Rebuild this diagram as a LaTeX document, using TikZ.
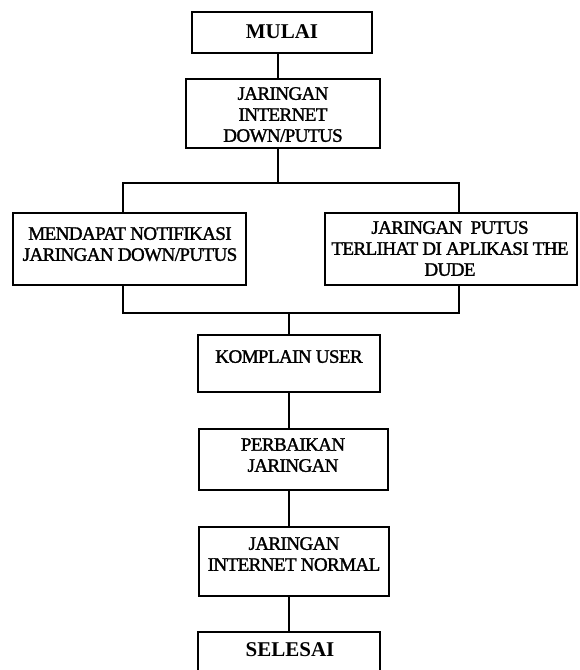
\documentclass[tikz,border=0pt]{standalone}
\usepackage{fontspec}
\setmainfont{Liberation Serif}[LetterSpace=-3,FakeBold=1.5]
\newfontfamily\endfont{Liberation Serif}[BoldFont={Liberation Serif Bold}]
\begin{document}
\begin{tikzpicture}[x=1pt,y=-1pt,
  box/.style={draw, line width=1.5pt, inner sep=0pt},
  txt/.style={anchor=north, inner sep=0pt, align=center, font=\fontsize{19}{21}\selectfont},
  endtxt/.style={anchor=north, inner sep=0pt, align=center, font=\endfont\bfseries\fontsize{21}{23}\selectfont},
  conn/.style={line width=2.2pt, line join=miter}]
\useasboundingbox (0,0) rectangle (579,670);
% boxes
\node[box, minimum width=180pt, minimum height=41pt] (mulai) at (282,32.5) {};
\node[box, minimum width=194pt, minimum height=69pt] (jar) at (283,113.5) {};
\node[box, minimum width=233pt, minimum height=72pt] (notif) at (129.5,249) {};
\node[box, minimum width=252pt, minimum height=72pt] (dude) at (451,249) {};
\node[box, minimum width=182pt, minimum height=57pt] (komp) at (289,363.5) {};
\node[box, minimum width=189pt, minimum height=61pt] (perb) at (293.5,459.5) {};
\node[box, minimum width=190pt, minimum height=69pt] (norm) at (294,561.5) {};
\node[box, minimum width=182pt, minimum height=58pt] (sel) at (289,661) {};
% texts
\node[endtxt] (tmulai) at (282,24.5) {MULAI};
\node[txt] (tjar) at (283,87) {JARINGAN\\INTERNET\\DOWN/PUTUS};
\node[txt] (tnotif) at (130,227) {MENDAPAT NOTIFIKASI\\JARINGAN DOWN/PUTUS};
\node[txt] (tdude) at (450,221) {JARINGAN\ \ PUTUS\\TERLIHAT DI APLIKASI THE\\DUDE};
\node[txt] (tkomp) at (289,350) {KOMPLAIN USER};
\node[txt] (tperb) at (293,438) {PERBAIKAN\\JARINGAN};
\node[txt] (tnorm) at (294,537) {JARINGAN\\INTERNET NORMAL};
\node[endtxt] (tsel) at (290,642.5) {SELESAI};
% connector coordinates
\coordinate (top) at (278,183);
\coordinate (sL) at (123,183);
\coordinate (sR) at (459,183);
\coordinate (jL) at (123,313);
\coordinate (jR) at (459,313);
\coordinate (col) at (289,313);
% connectors
\draw[conn] (mulai.south -| top) -- (jar.north -| top);
\draw[conn] (jar.south -| top) -- (top);
\draw[conn] (notif.north -| sL) -- (sL) -- (sR) -- (dude.north -| sR);
\draw[conn] (notif.south -| jL) -- (jL) -- (jR) -- (dude.south -| jR);
\draw[conn] (col) -- (komp.north -| col);
\draw[conn] (komp.south -| col) -- (perb.north -| col);
\draw[conn] (perb.south -| col) -- (norm.north -| col);
\draw[conn] (norm.south -| col) -- (sel.north -| col);
\end{tikzpicture}
\end{document}
